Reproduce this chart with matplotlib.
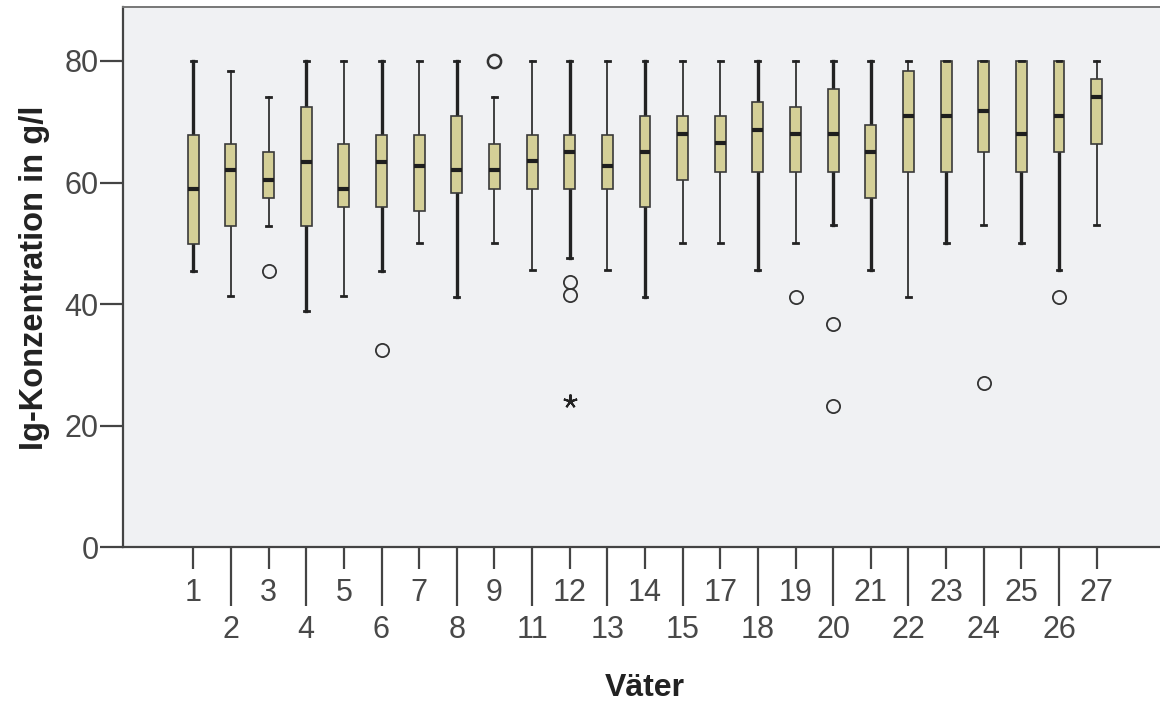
import matplotlib
matplotlib.use("Agg")
import matplotlib.pyplot as plt
import numpy as np

# ---- data ----
categories = ["1", "2", "3", "4", "5", "6", "7", "8", "9", "11", "12", "13", "14",
              "15", "17", "18", "19", "20", "21", "22", "23", "24", "25", "26", "27"]
whisker_hi = [80.0, 78.4, 74.0, 80.0, 80.0, 80.0, 80.0, 80.0, 74.0, 80.0, 80.0, 80.0, 80.0,
              80.0, 80.0, 80.0, 80.0, 80.0, 80.0, 80.0, 80.0, 80.0, 80.0, 80.0, 80.0]
q3 = [67.9, 66.4, 65.0, 72.4, 66.4, 67.9, 67.9, 71.0, 66.4, 67.9, 67.9, 67.9, 71.0,
      71.0, 71.0, 73.2, 72.5, 75.4, 69.4, 78.4, 80.0, 80.0, 80.0, 80.0, 77.0]
median = [59.0, 62.0, 60.5, 63.4, 59.0, 63.4, 62.8, 62.0, 62.0, 63.5, 65.0, 62.8, 65.0,
          68.0, 66.5, 68.7, 68.0, 68.0, 65.0, 71.0, 71.0, 71.7, 68.0, 71.0, 74.0]
q1 = [49.9, 52.8, 57.5, 52.8, 55.9, 55.9, 55.3, 58.3, 58.9, 58.9, 58.9, 58.9, 55.9,
      60.4, 61.8, 61.8, 61.8, 61.8, 57.5, 61.8, 61.8, 65.0, 61.8, 65.0, 66.4]
whisker_lo = [45.5, 41.3, 52.8, 38.9, 41.3, 45.5, 50.0, 41.2, 50.0, 45.6, 47.6, 45.6, 41.2,
              50.0, 50.0, 45.6, 50.0, 53.0, 45.6, 41.2, 50.0, 53.0, 50.0, 45.6, 53.0]
outliers = {"3": [45.5], "6": [32.4], "9": [80.0], "12": [43.7, 41.5],
            "19": [41.2], "20": [36.7, 23.2], "24": [27.0], "26": [41.2]}
extremes = {"12": [24.1]}

y_ticks = [0, 20, 40, 60, 80]
x_label = "Väter"
y_label = "Ig-Konzentration in g/l"

# ---- styling ----
plt.rcParams['font.family'] = ['Liberation Sans', 'DejaVu Sans']
W, H, DPI = 1160, 704, 100
fig = plt.figure(figsize=(W / DPI, H / DPI), dpi=DPI)
ax_left_px, ax_bottom_px, ax_top_px = 123, 547.3, 7
ax = fig.add_axes([ax_left_px / W, 1 - ax_bottom_px / H, 1 - ax_left_px / W,
                   (ax_bottom_px - ax_top_px) / H])
ax.set_facecolor("#F0F1F3")

n = len(categories)
pos = np.arange(n)
stats = []
for i, c in enumerate(categories):
    stats.append(dict(med=median[i], q1=q1[i], q3=q3[i], whislo=whisker_lo[i],
                      whishi=whisker_hi[i], fliers=[], label=c))

edge = "#3a3a3a"
bp = ax.bxp(stats, positions=pos, widths=0.29, capwidths=0.13, patch_artist=True,
            showfliers=False,
            boxprops=dict(facecolor="#D4CF97", edgecolor=edge, linewidth=1.2),
            medianprops=dict(color="#1e1e1e", linewidth=3.0, solid_capstyle="butt"),
            whiskerprops=dict(color="#222222", linewidth=1.6),
            capprops=dict(color="#222222", linewidth=2.0))

# emulate the heavier/lighter whisker rendering of the original
thick = {"1", "4", "6", "8", "12", "14", "18", "20", "21", "23", "25", "26"}
for i, c in enumerate(categories):
    lw = 2.4 if c in thick else 1.2
    for w in bp["whiskers"][2 * i:2 * i + 2]:
        w.set_linewidth(lw)
        w.set_zorder(1.5)
for b in bp["boxes"]:
    b.set_zorder(2)
for m in bp["medians"]:
    m.set_zorder(3)

for c, vals in outliers.items():
    i = categories.index(c)
    ax.plot([pos[i]] * len(vals), vals, linestyle="none", marker="o", markersize=9.5,
            markerfacecolor="none", markeredgecolor="#333333",
            markeredgewidth=1.8 if c == "9" else 1.3)
for c, vals in extremes.items():
    i = categories.index(c)
    ax.plot([pos[i]] * len(vals), vals, linestyle="none", marker=(5, 2, 0),
            markersize=10, markeredgecolor="#222222", markeredgewidth=1.5)

# axes limits
spacing_px = 37.64
x0 = -(193.3 - ax_left_px) / spacing_px
x1 = x0 + (W - ax_left_px) / spacing_px
ax.set_xlim(x0, x1)
ax.set_ylim(0, (ax_bottom_px - ax_top_px) / ((ax_bottom_px - 61) / 80))

ax.spines["right"].set_visible(False)
ax.spines["top"].set_color("#777777")
ax.spines["top"].set_linewidth(1.4)
for s in ["left", "bottom"]:
    ax.spines[s].set_color("#444444")
    ax.spines[s].set_linewidth(1.6)

tick_color = "#484848"
ax.set_yticks(y_ticks)
ax.set_yticklabels([str(v) for v in y_ticks])
ax.tick_params(axis="y", length=16.5, width=1.6, color="#444444", pad=1,
               labelsize=22, labelcolor=tick_color)

ax.set_xticks(pos[0::2])
ax.set_xticklabels(categories[0::2])
ax.set_xticks(pos[1::2], minor=True)
ax.set_xticklabels(categories[1::2], minor=True)
ax.tick_params(axis="x", which="major", length=16, width=1.6, color="#444444", pad=6,
               labelsize=22, labelcolor=tick_color)
ax.tick_params(axis="x", which="minor", length=42.5, width=1.6, color="#444444", pad=6,
               labelsize=22, labelcolor=tick_color)

fig.text(645 / W, 1 - 688 / H, x_label, ha="center", va="center", fontsize=23,
         fontweight="bold", color="#222222")
fig.text(35 / W, 1 - 278 / H, y_label, ha="center", va="center", rotation=90,
         fontsize=23.5, fontweight="bold", color="#222222")

fig.savefig("out.png", dpi=DPI)
